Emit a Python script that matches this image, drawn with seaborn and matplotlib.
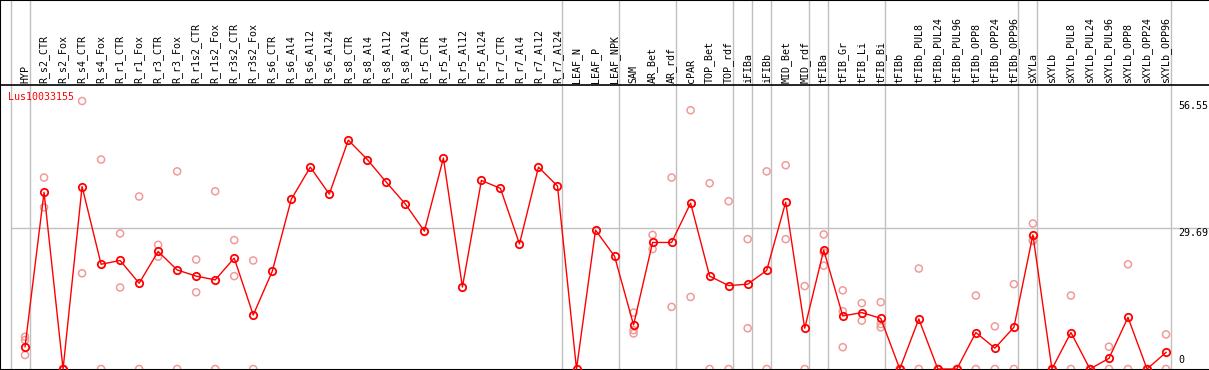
import numpy as np
import pandas as pd
import matplotlib
matplotlib.use('Agg')
import matplotlib.pyplot as plt
import seaborn as sns

# 샘플 이름
samples = ['HYP', 'R_s2_CTR', 'R_s2_Fox', 'R_s4_CTR', 'R_s4_Fox', 'R_r1_CTR', 'R_r1_Fox',
           'R_r3_CTR', 'R_r3_Fox', 'R_r1s2_CTR', 'R_r1s2_Fox', 'R_r3s2_CTR', 'R_r3s2_Fox',
           'R_s6_CTR', 'R_s6_Al4', 'R_s6_Al12', 'R_s6_Al24', 'R_s8_CTR', 'R_s8_Al4',
           'R_s8_Al12', 'R_s8_Al24', 'R_r5_CTR', 'R_r5_Al4', 'R_r5_Al12', 'R_r5_Al24',
           'R_r7_CTR', 'R_r7_Al4', 'R_r7_Al12', 'R_r7_Al24', 'LEAF_N', 'LEAF_P', 'LEAF_NPK',
           'SAM', 'AR_Bet', 'AR_rdf', 'cPAR', 'TOP_Bet', 'TOP_rdf', 'iFIBa', 'iFIBb',
           'MID_Bet', 'MID_rdf', 'tFIBa', 'tFIB_Gr', 'tFIB_Li', 'tFIB_Bi', 'tFIBb',
           'tFIBb_PUL8', 'tFIBb_PUL24', 'tFIBb_PUL96', 'tFIBb_OPP8', 'tFIBb_OPP24',
           'tFIBb_OPP96', 'sXYLa', 'sXYLb', 'sXYLb_PUL8', 'sXYLb_PUL24', 'sXYLb_PUL96',
           'sXYLb_OPP8', 'sXYLb_OPP24', 'sXYLb_OPP96']

# 평균 발현값
mean_expr = [4.7, 37.3, 0, 38.5, 22.1, 22.9, 18.1, 24.8, 20.9, 19.6, 18.8, 23.4, 11.4,
             20.6, 35.8, 42.6, 36.9, 48.3, 44.2, 39.4, 34.8, 29.1, 44.5, 17.3, 39.8,
             38.1, 26.4, 42.6, 38.6, 0, 29.3, 23.8,
             9.3, 26.7, 26.7, 35.0, 19.6, 17.6, 17.9, 20.8, 35.2, 8.6,
             25.1, 11.2, 11.9, 10.7, 0, 10.55, 0, 0, 7.7, 4.4, 8.8,
             28.3, 0, 7.7, 0, 2.25, 10.9, 0, 3.5]

nan = np.nan
# 반복 측정값 (없으면 nan)
rep_a = [6.8, 40.4, 0, 56.55, 44.2, 28.6, 36.4, 26.2, 41.7, 23.1, 37.5, 27.2, 22.9,
         nan, nan, nan, nan, nan, nan, nan, nan, nan, nan, nan, nan, nan, nan, nan, nan,
         nan, nan, nan,
         11.9, 28.3, 40.4, 54.6, 39.2, 35.4, 27.4, 41.7, 43.0, 17.5,
         28.4, 16.6, 13.9, 14.1, 0, 21.2, 0, 0, 15.5, 9.0, 17.9,
         30.7, 0, 15.5, 0, 4.7, 22.1, 0, 7.3]
rep_b = [6.1, 34.1, 0, 20.2, 0, 17.2, 0, 23.7, 0, 16.2, 0, 19.6, 0,
         nan, nan, nan, nan, nan, nan, nan, nan, nan, nan, nan, nan, nan, nan, nan, nan,
         nan, nan, nan,
         8.2, 25.3, 13.1, 15.2, 0, 0, 8.6, 0, 27.4, 0,
         24.6, 12.2, 10.2, 9.5, 0, 0, 0, 0, 0, 0, 0,
         27.2, 0, 0, 0, 0, 0, 0, 0]
rep_c = [2.95, nan, 0, nan, nan, nan, nan, nan, nan, nan, nan, nan, nan,
         nan, nan, nan, nan, nan, nan, nan, nan, nan, nan, nan, nan, nan, nan, nan, nan,
         nan, nan, nan,
         7.5, nan, nan, nan, nan, nan, nan, nan, nan, nan,
         21.8, 4.6, nan, 8.8, nan, nan, nan, nan, nan, nan, nan,
         27.0, nan, nan, nan, nan, nan, nan, nan]

# 그룹 경계 (해당 샘플 뒤에 세로선)
group_ends = [-1, 0, 28, 31, 34, 37, 38, 39, 41, 42, 45, 52, 53, 60]
tick_vals = [56.55, 29.69, 0]
gene = 'Lus10033155'

pos = np.arange(len(samples))
df_mean = pd.DataFrame({'pos': pos, 'expr': mean_expr})
df_rep = pd.DataFrame({'pos': np.tile(pos, 3), 'expr': rep_a + rep_b + rep_c}).dropna()

fig = plt.figure(figsize=(12.09, 3.70), dpi=100)
ax = fig.add_axes([0, 0, 1, 1])
ax.set_xlim(-1.316, 62.26)
ax.set_ylim(-0.21, 77.86)

# 세로 구분선
for g in group_ends:
    ax.axvline(g + 0.24, color='#c0c0c0', lw=1, zorder=0)
ax.hlines(tick_vals[1], group_ends[0] + 0.24, 62.26, color='#c0c0c0', lw=1, zorder=0)
ax.axhline(59.93, color='black', lw=1.2, zorder=1)

sns.scatterplot(data=df_rep, x='pos', y='expr', ax=ax, marker='o', s=26,
                facecolor='none', edgecolor='#f09a9a', linewidth=1.1, zorder=2,
                clip_on=False)
sns.lineplot(data=df_mean, x='pos', y='expr', ax=ax, color='red', lw=1, zorder=3,
             marker='o', markersize=5.3, markerfacecolor='none', markeredgecolor='red',
             markeredgewidth=1.3, clip_on=False)

# 샘플 라벨
for i, name in enumerate(samples):
    ax.text(i, 60.35, name, rotation=90, ha='center', va='bottom',
            family='DejaVu Sans Mono', fontsize=7.2, color='black')

# 오른쪽 눈금 라벨
for v in tick_vals:
    ax.text(60.63, v if v > 0 else 0.9, f'{v:g}', ha='left',
            va='top' if v > 0 else 'bottom', family='DejaVu Sans Mono',
            fontsize=7.2, color='black')

ax.text(-0.88, 57.4, gene, ha='left', va='center', family='DejaVu Sans Mono',
        fontsize=7.2, color='red')

ax.set_xlabel('')
ax.set_ylabel('')
ax.set_xticks([])
ax.set_yticks([])
for sp in ax.spines.values():
    sp.set_color('black')
    sp.set_linewidth(1.5)
ax.spines['right'].set_visible(False)

plt.savefig('out.png', dpi=100)
